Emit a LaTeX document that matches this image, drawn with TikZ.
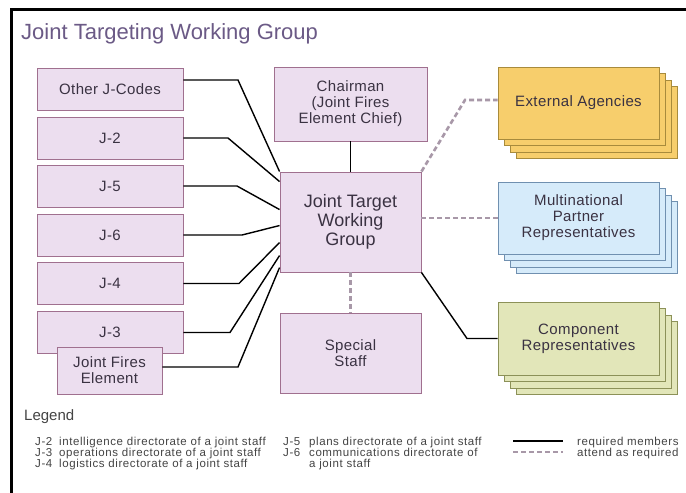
\documentclass[tikz,border=0pt]{standalone}
\usepackage{fontspec}
\setmainfont{Liberation Sans}
\newfontfamily\legfont[LetterSpace=5]{Liberation Sans}
\newfontfamily\boxfont[LetterSpace=2.5]{Liberation Sans}
\usetikzlibrary{calc}
\definecolor{pinkfill}{HTML}{ECDEEF}
\definecolor{pinkline}{HTML}{A0708F}
\definecolor{yfill}{HTML}{F7CE6C}
\definecolor{yline}{HTML}{A88B3C}
\definecolor{bfill}{HTML}{D6EBFA}
\definecolor{bline}{HTML}{7090B0}
\definecolor{gfill}{HTML}{E2E6B9}
\definecolor{gline}{HTML}{8C9158}
\definecolor{txt}{HTML}{3A3242}
\definecolor{titlec}{HTML}{6B5A86}
\definecolor{dashc}{HTML}{A898A8}
\definecolor{legc}{HTML}{444444}
\tikzset{
  boxbase/.style={line width=0.9pt, text=txt, align=center, inner sep=0pt,
    font=\boxfont\fontsize{15}{16}\selectfont},
  pbox/.style={boxbase, draw=pinkline, fill=pinkfill},
  ybox/.style={boxbase, draw=yline, fill=yfill, minimum width=161, minimum height=72},
  bbox/.style={boxbase, draw=bline, fill=bfill, minimum width=161, minimum height=72},
  gbox/.style={boxbase, draw=gline, fill=gfill, minimum width=161, minimum height=73},
  leftbox/.style={pbox, minimum width=146, minimum height=42},
  req/.style={draw=black, line width=1.4pt},
  opt/.style={draw=dashc, line width=2.6pt, dash pattern=on 5pt off 3pt},
  legtext/.style={anchor=base west, inner sep=0pt, text=legc, font=\legfont\fontsize{11.5}{11.5}\selectfont}
}
\begin{document}
\begin{tikzpicture}[x=1pt,y=-1pt]
\useasboundingbox (0,0) rectangle (686,493);
\fill[white] (0,0) rectangle (686,493);
% frame
\draw[line width=3pt] (11,493) -- (11,9.5) -- (686,9.5);
% title
\node[anchor=west, inner sep=0pt, text=titlec, font=\fontsize{22}{24}\selectfont] (title) at (21,34) {Joint Targeting Working Group};

% left boxes
\node[leftbox] (oj) at (110,89) {Other J-Codes};
\node[leftbox] (j2) at (110,138) {J-2};
\node[leftbox] (j5) at (110,186) {J-5};
\node[leftbox] (j6) at (110,235) {J-6};
\node[leftbox] (j4) at (110,283.5) {J-4};
\node[leftbox] (j3) at (110,332.5) {J-3};
\node[pbox, minimum width=105, minimum height=47] (jfe) at (109.5,370.5) {Joint Fires\\Element};

% centre boxes
\node[pbox, minimum width=153, minimum height=74] (chair) at (350.5,104) {Chairman\\(Joint Fires\\Element Chief)};
\node[pbox, minimum width=141, minimum height=100, font=\fontsize{18}{19}\selectfont] (jtwg) at (350.5,222) {Joint Target\\Working\\Group};
\node[pbox, minimum width=141, minimum height=80] (spec) at (350.5,353) {Special\\Staff};

% right stacks
\foreach \i in {3,2,1} {
  \node[ybox] (ea\i) at (578.5+6*\i,103+6.5*\i) {};
  \node[bbox] (mn\i) at (578.5+6*\i,218+6.5*\i) {};
  \node[gbox] (cr\i) at (578.5+6*\i,338.5+6.5*\i) {};
}
\node[ybox] (ea) at (578.5,103) {External Agencies};
\node[bbox] (mn) at (578.5,218) {Multinational\\Partner\\Representatives};
\node[gbox] (cr) at (578.5,338.5) {Component\\Representatives};

% bend points
\coordinate (bOJ) at (238,80);
\coordinate (bJ2) at (228,138);
\coordinate (bJ5) at (237,186);
\coordinate (bJ6) at (242,235);
\coordinate (bJ4) at (239,283.5);
\coordinate (bJ3) at (230,332.5);
\coordinate (bJF) at (238,367);
\coordinate (bEA) at (465,100);
\coordinate (bCR) at (467,338.5);

% required connectors
\draw[req] ([yshift=9pt]oj.east) -- (bOJ) -- (jtwg.north west);
\draw[req] (j2.east) -- (bJ2) -- ($(jtwg.north west)+(0,10)$);
\draw[req] (j5.east) -- (bJ5) -- ($(jtwg.north west)+(0,38)$);
\draw[req] (j6.east) -- (bJ6) -- ($(jtwg.north west)+(0,54)$);
\draw[req] (j4.east) -- (bJ4) -- ($(jtwg.north west)+(0,71)$);
\draw[req] (j3.east) -- (bJ3) -- ($(jtwg.north west)+(0,84)$);
\draw[req] ([yshift=3.5pt]jfe.east) -- (bJF) -- ($(jtwg.north west)+(0,96)$);
\draw[req, line width=1.1pt] (chair.south) -- (jtwg.north);
\draw[req] (jtwg.south east) -- (bCR) -- (cr.west);

% optional connectors
\draw[opt] (jtwg.north east) -- (bEA) -- ([yshift=3pt]ea.west);
\draw[opt] (jtwg.east |- mn.west) -- (mn.west);
\draw[opt] (jtwg.south) -- (spec.north);

% legend
\node[anchor=west, inner sep=0pt, text=legc, font=\fontsize{15}{16}\selectfont] (leg) at (24,417) {Legend};
\node[legtext] (l1a) at (35,445) {J-2};
\node[legtext] (l1b) at (59,445) {intelligence directorate of a joint staff};
\node[legtext] (l2a) at (35,456) {J-3};
\node[legtext] (l2b) at (59,456) {operations directorate of a joint staff};
\node[legtext] (l3a) at (35,467) {J-4};
\node[legtext] (l3b) at (59,467) {logistics directorate of a joint staff};
\node[legtext] (l4a) at (283,445) {J-5};
\node[legtext] (l4b) at (309,445) {plans directorate of a joint staff};
\node[legtext] (l5a) at (283,456) {J-6};
\node[legtext] (l5b) at (309,456) {communications directorate of};
\node[legtext] (l6b) at (309,467) {a joint staff};
\node[legtext] (l7) at (577,445) {required members};
\node[legtext] (l8) at (577,456) {attend as required};
\coordinate (s1) at (513,441);
\coordinate (s2) at (513,452);
\draw[req, line width=2pt] (s1) -- (563,441);
\draw[opt, line width=2.2pt] (s2) -- (563,452);
\end{tikzpicture}
\end{document}
